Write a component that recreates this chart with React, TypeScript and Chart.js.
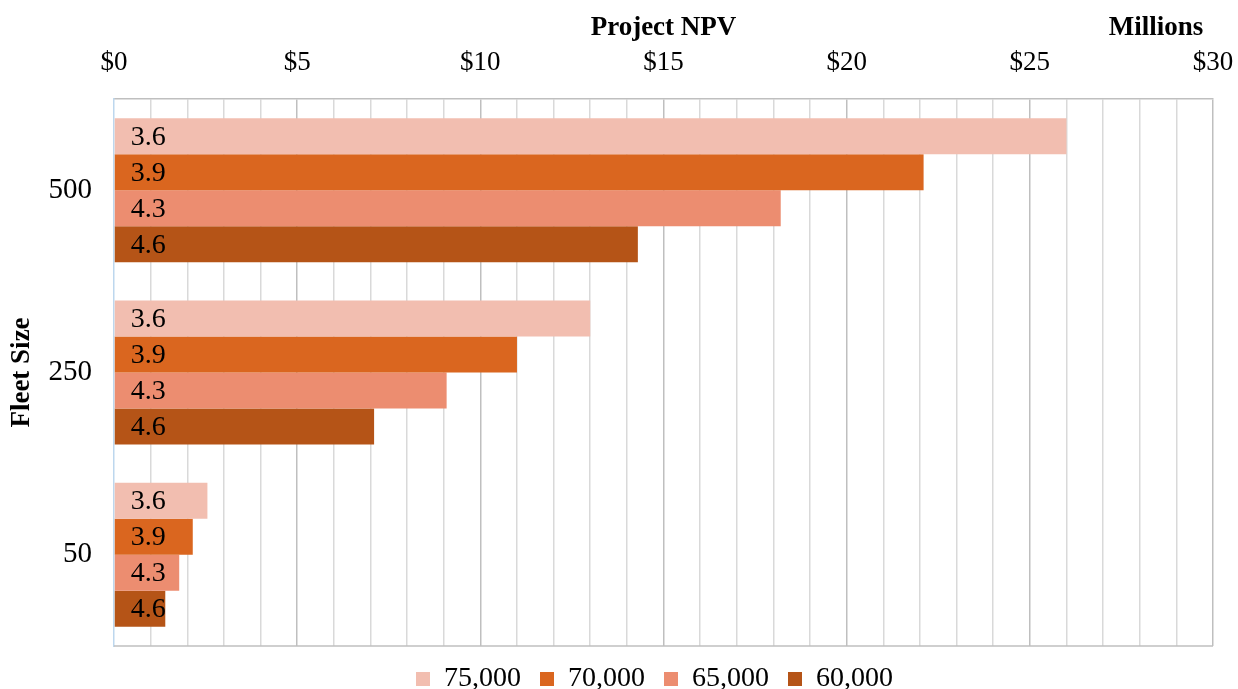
import React, { useEffect, useRef } from 'react';
import { Chart, registerables } from 'chart.js';

Chart.register(...registerables);

const categories = ['500', '250', '50'];
const seriesNames = ['75,000', '70,000', '65,000', '60,000'];
const barLabels = ['3.6', '3.9', '4.3', '4.6'];
const npv75 = [26.0, 13.0, 2.55];
const npv70 = [22.1, 11.0, 2.15];
const npv65 = [18.2, 9.08, 1.78];
const npv60 = [14.3, 7.1, 1.4];
const seriesValues = [npv75, npv70, npv65, npv60];
const seriesColors = ['#F2BEB0', '#DA661F', '#EC8D70', '#B55417'];
const xMin = 0;
const xMax = 30;
const xMajorStep = 5;

const FONT = '"Liberation Serif", "Times New Roman", serif';

const decorPlugin = {
  id: 'decor',
  afterLayout(chart: any) {
    const lg = chart.legend;
    if (lg) {
      lg.left += 48;
      lg.right += 48;
    }
  },
  afterDatasetsDraw(chart: any) {
    const { ctx } = chart;
    ctx.save();
    ctx.font = `28px ${FONT}`;
    ctx.fillStyle = '#000';
    ctx.textAlign = 'left';
    ctx.textBaseline = 'middle';
    chart.data.datasets.forEach((ds: any, i: number) => {
      const meta = chart.getDatasetMeta(i);
      meta.data.forEach((bar: any) => {
        ctx.fillText(barLabels[i], bar.base + 16, bar.y + 1);
      });
    });
    ctx.restore();
  },
  afterDraw(chart: any) {
    const { ctx, chartArea } = chart;
    ctx.save();
    ctx.strokeStyle = '#BFBFBF';
    ctx.lineWidth = 1.5;
    ctx.beginPath();
    ctx.moveTo(chartArea.left, chartArea.bottom);
    ctx.lineTo(chartArea.right, chartArea.bottom);
    ctx.stroke();
    ctx.fillStyle = '#000';
    ctx.font = `bold 27px ${FONT}`;
    ctx.textBaseline = 'middle';
    ctx.textAlign = 'center';
    ctx.fillText('Project NPV', (chartArea.left + chartArea.right) / 2, 28);
    ctx.fillText('Millions', chartArea.right - 57, 28);
    ctx.translate(22, (chartArea.top + chartArea.bottom) / 2);
    ctx.rotate(-Math.PI / 2);
    ctx.fillText('Fleet Size', 0, 0);
    ctx.restore();
  },
};

export default function App() {
  const ref = useRef<HTMLCanvasElement | null>(null);
  useEffect(() => {
    if (!ref.current) return;
    const chart = new Chart(ref.current, {
      type: 'bar',
      data: {
        labels: categories,
        datasets: seriesNames.map((name, i) => ({
          label: name,
          data: seriesValues[i],
          backgroundColor: seriesColors[i],
          borderWidth: 0,
          categoryPercentage: 0.79,
          barPercentage: 1.0,
        })),
      },
      options: {
        indexAxis: 'y',
        animation: false,
        responsive: false,
        maintainAspectRatio: false,
        layout: { padding: { top: 0, right: 25, bottom: -14, left: 0 } },
        plugins: {
          tooltip: { enabled: false },
          legend: {
            position: 'bottom',
            labels: {
              boxWidth: 14,
              boxHeight: 14,
              padding: 19,
              color: '#000',
              font: { family: FONT, size: 28 },
            },
          },
        },
        scales: {
          x: {
            position: 'top',
            min: xMin,
            max: xMax,
            afterFit: (s: any) => {
              s.height = 99;
              s.paddingLeft = 0;
              s.paddingRight = 0;
            },
            ticks: {
              stepSize: 1,
              autoSkip: false,
              maxRotation: 0,
              padding: 20,
              color: '#000',
              font: { family: FONT, size: 27 },
              callback: (v: any) => (Number(v) % xMajorStep === 0 ? '$' + v : ''),
            },
            grid: {
              drawTicks: false,
              lineWidth: 1.5,
              color: (c: any) => {
                const v = c.tick ? c.tick.value : null;
                if (v === 0) return 'rgba(0,0,0,0)';
                return v % xMajorStep === 0 ? '#BFBFBF' : '#D9D9D9';
              },
            },
            border: { display: true, color: '#BFBFBF', width: 1.5 },
          },
          y: {
            afterFit: (s: any) => { s.width = 114; },
            ticks: {
              padding: 22,
              color: '#000',
              font: { family: FONT, size: 29 },
            },
            grid: { display: false, drawTicks: false },
            border: { display: true, color: '#BDD7EE', width: 1.5 },
          },
        },
      },
      plugins: [decorPlugin],
    } as any);
    return () => chart.destroy();
  }, []);
  return (
    <div style={{ position: 'fixed', left: 0, top: 0, width: 1238, height: 689, background: '#fff' }}>
      <canvas ref={ref} width={1238} height={689} style={{ width: 1238, height: 689 }} />
    </div>
  );
}
